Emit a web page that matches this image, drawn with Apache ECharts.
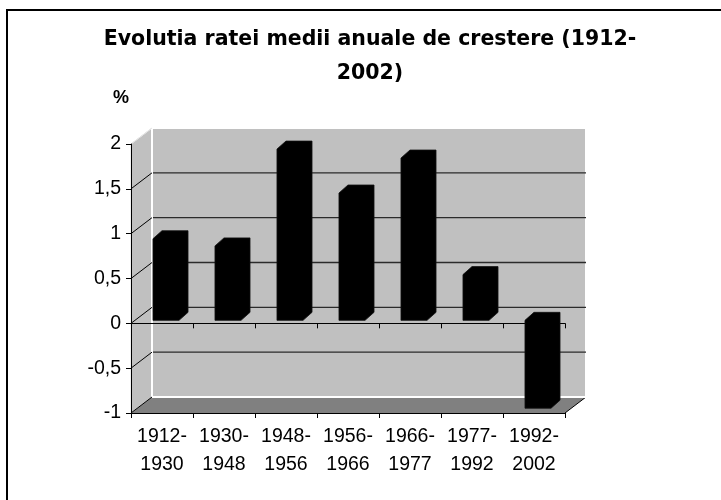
<!DOCTYPE html>
<html>
<head>
<meta charset="utf-8">
<script src="https://cdn.jsdelivr.net/npm/echarts@6/dist/echarts.min.js"></script>
<style>
  html, body { margin: 0; padding: 0; background: #fff; }
  #chart { width: 721px; height: 500px; }
</style>
</head>
<body>
<div id="chart"></div>
<script>
// Average annual growth rate per period (%)
const periods = ['1912-1930', '1930-1948', '1948-1956', '1956-1966', '1966-1977', '1977-1992', '1992-2002'];
const growthRates = [0.91, 0.83, 1.91, 1.42, 1.81, 0.51, -0.98];
const yTicks = [-1, -0.5, 0, 0.5, 1, 1.5, 2];
const titleText = 'Evolutia ratei medii anuale de crestere (1912-\n2002)';
const unitLabel = '%';

const Y_MIN = yTicks[0];
const Y_MAX = yTicks[yTicks.length - 1];
const Y_STEP = yTicks[1] - yTicks[0];

// pseudo-3D geometry (pixels)
const DEPTH = [21, -16];      // back wall offset from the front plane
const BAR_SHIFT = [4, -3];    // bar front face offset from the front plane
const BAR_DEPTH = [9, -8];    // bar thickness
const BAR_WIDTH = 0.42;       // fraction of a category band

const FONT = 'Liberation Sans';

function renderWalls(params, api) {
  const band = api.size([1, 0])[0];
  const n = periods.length;
  const xL = api.coord([0, 0])[0] - band / 2;
  const xR = api.coord([n - 1, 0])[0] + band / 2;
  const y = v => api.coord([0, v])[1];
  const yTop = y(Y_MAX), yBot = y(Y_MIN);
  const dx = DEPTH[0], dy = DEPTH[1];
  const children = [];
  // left side wall
  children.push({
    type: 'polygon',
    shape: { points: [[xL, yTop], [xL + dx, yTop + dy], [xL + dx, yBot + dy], [xL, yBot]] },
    style: { fill: '#c0c0c0', stroke: '#e4e4e4', lineWidth: 1 }
  });
  // floor
  children.push({
    type: 'polygon',
    shape: { points: [[xL, yBot], [xR, yBot], [xR + dx, yBot + dy], [xL + dx, yBot + dy]] },
    style: { fill: '#808080' }
  });
  children.push({
    type: 'line',
    shape: { x1: xR, y1: yBot, x2: xR + dx, y2: yBot + dy },
    style: { stroke: '#000', lineWidth: 1 }
  });
  // back wall
  children.push({
    type: 'rect',
    shape: { x: xL + dx, y: yTop + dy, width: xR - xL, height: yBot - yTop },
    style: { fill: '#c0c0c0', stroke: '#ffffff', lineWidth: 2 }
  });
  // gridlines on the back wall and the side wall
  yTicks.forEach(v => {
    const yy = y(v);
    if (v > Y_MIN && v < Y_MAX) {
      children.push({
        type: 'line',
        shape: { x1: xL + dx + 1, y1: yy + dy, x2: xR + dx, y2: yy + dy },
        style: { stroke: '#2b2b2b', lineWidth: 1.3 }
      });
    }
    children.push({
      type: 'line',
      shape: { x1: xL, y1: yy, x2: xL + dx, y2: yy + dy },
      style: { stroke: v < Y_MAX ? '#000' : '#e4e4e4', lineWidth: 1 }
    });
  });
  return { type: 'group', children: children };
}

function renderBar(params, api) {
  const i = api.value(0), v = api.value(1);
  const band = api.size([1, 0])[0];
  const w = band * BAR_WIDTH;
  const base = api.coord([i, 0]);
  const tip = api.coord([i, v]);
  const x0 = base[0] - w / 2 + BAR_SHIFT[0];
  const x1 = base[0] + w / 2 + BAR_SHIFT[0];
  const yHi = Math.min(base[1], tip[1]) + BAR_SHIFT[1];
  const yLo = Math.max(base[1], tip[1]) + BAR_SHIFT[1];
  const dx = BAR_DEPTH[0], dy = BAR_DEPTH[1];
  return {
    type: 'polygon',
    shape: {
      points: [[x0, yLo], [x0, yHi], [x0 + dx, yHi + dy], [x1 + dx, yHi + dy], [x1 + dx, yLo + dy], [x1, yLo]]
    },
    style: { fill: '#000', stroke: '#111', lineWidth: 0.8 }
  };
}

const chart = echarts.init(document.getElementById('chart'), null, { renderer: 'canvas' });

chart.setOption({
  animation: false,
  backgroundColor: '#fff',
  title: {
    text: titleText,
    left: 370,
    top: 23,
    padding: 0,
    textAlign: 'center',
    textStyle: {
      fontFamily: 'DejaVu Sans',
      fontWeight: 'bold',
      fontSize: 20.5,
      lineHeight: 34,
      color: '#000'
    }
  },
  graphic: [{
    type: 'rect',
    silent: true,
    z: 100,
    shape: { x: 7, y: 10, width: 760, height: 560 },
    style: { fill: 'none', stroke: '#000', lineWidth: 2 }
  }],
  grid: { left: 131, right: 156, top: 144, bottom: 87, outerBoundsMode: 'none' },
  xAxis: [{
    type: 'category',
    data: periods,
    position: 'bottom',
    boundaryGap: true,
    z: 2,
    axisLine: { onZero: false, lineStyle: { color: '#000', width: 1 } },
    axisTick: { show: true, length: 5, interval: 0, lineStyle: { color: '#000' } },
    axisLabel: {
      interval: 0,
      margin: 10,
      color: '#000',
      fontFamily: FONT,
      fontSize: 19.5,
      lineHeight: 28,
      formatter: s => s.replace('-', '-\n')
    },
    splitLine: { show: false }
  }, {
    type: 'category',
    data: periods,
    position: 'bottom',
    boundaryGap: true,
    z: 2,
    axisLine: { onZero: true, onZeroAxisIndex: 0, lineStyle: { color: '#000', width: 1 } },
    axisTick: { show: true, length: 5, interval: 0, lineStyle: { color: '#000' } },
    axisLabel: { show: false },
    splitLine: { show: false }
  }],
  yAxis: {
    type: 'value',
    min: Y_MIN,
    max: Y_MAX,
    interval: Y_STEP,
    z: 2,
    name: unitLabel,
    nameLocation: 'end',
    nameGap: 37,
    nameTextStyle: {
      fontFamily: FONT,
      fontWeight: 'bold',
      fontSize: 18,
      color: '#000',
      align: 'right',
      padding: [0, 2, 0, 0]
    },
    axisLine: { show: true, lineStyle: { color: '#000', width: 1 } },
    axisTick: { show: true, length: 5, lineStyle: { color: '#000' } },
    axisLabel: {
      margin: 10,
      color: '#000',
      fontFamily: FONT,
      fontSize: 19.5,
      formatter: v => String(v).replace('.', ',')
    },
    splitLine: { show: false }
  },
  series: [{
    type: 'custom',
    name: 'walls',
    silent: true,
    z: 1,
    clip: false,
    xAxisIndex: 0,
    data: [[0, 0]],
    renderItem: renderWalls
  }, {
    type: 'custom',
    name: 'rata de crestere',
    z: 3,
    clip: false,
    xAxisIndex: 0,
    encode: { x: 0, y: 1 },
    data: growthRates.map((v, i) => [i, v]),
    renderItem: renderBar
  }]
});
</script>
</body>
</html>
